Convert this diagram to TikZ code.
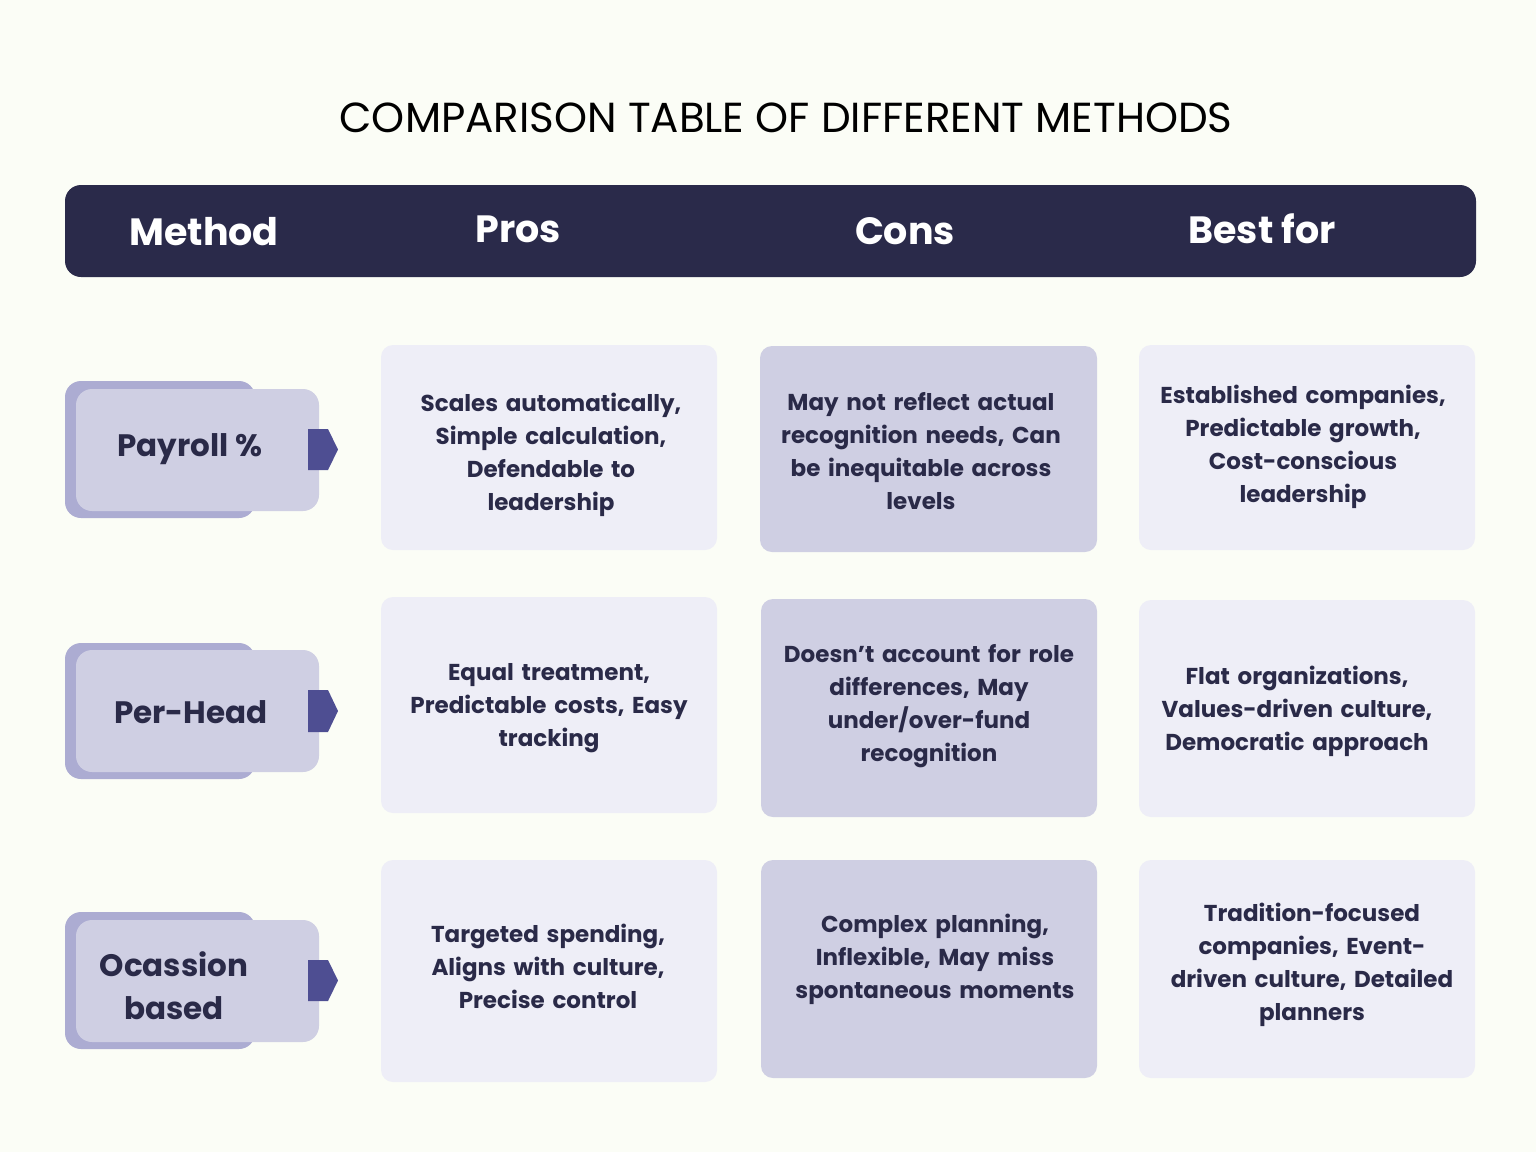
\documentclass[tikz,border=0pt]{standalone}
\usepackage{fontspec}
\setmainfont{Poppins}
\definecolor{bg}{HTML}{FBFDF6}
\definecolor{hdr}{HTML}{2A2A4A}
\definecolor{lite}{HTML}{EEEEF7}
\definecolor{mid}{HTML}{CFCFE3}
\definecolor{back}{HTML}{ACACD2}
\definecolor{tag}{HTML}{4E4E92}
\definecolor{ink}{HTML}{2A2A48}
\tikzset{
 cell/.style={rounded corners=12pt},
 ctext/.style={text=ink,font=\fontsize{23}{33}\selectfont\bfseries,align=center,text width=#1},
 htext/.style={text=white,font=\fontsize{38}{44}\selectfont\bfseries},
 mtext/.style={text=ink,font=\fontsize{31}{43}\selectfont\bfseries,align=center}
}
\begin{document}
\begin{tikzpicture}[x=1pt,y=-1pt]
\fill[bg] (0,0) rectangle (1536,1152);
\useasboundingbox (0,0) rectangle (1536,1152);
\node[font=\fontsize{42}{50}\selectfont,text=black] (title) at (786,118) {COMPARISON TABLE OF DIFFERENT METHODS};
\fill[hdr,rounded corners=16pt] (65,185) rectangle (1476,277);
\node[htext] (h1) at (204,232) {Method};
\node[htext] (h2) at (518,229) {Pros};
\node[htext] (h3) at (905,231) {Cons};
\node[htext] (h4) at (1262,229) {Best for};
% method boxes
\foreach \yb/\ye/\yf/\yg/\ya/\yz in {381/518/389/511/429/470, 643/779/650/772/690/732, 912/1049/920/1042/960/1001}{
 \fill[back,rounded corners=16pt] (65,\yb) rectangle (255,\ye);
 \fill[mid,rounded corners=16pt] (76,\yf) rectangle (319,\yg);
 \fill[tag] (308,\ya) -- (328,\ya) -- (338,{(\ya+\yz)/2}) -- (328,\yz) -- (308,\yz) -- cycle;
}
\node[mtext] (m1) at (190,449) {Payroll \%};
\node[mtext] (m2) at (191,712) {Per-Head};
\node[mtext] (m3) at (174,986) {Ocassion\\based};
% cells
\fill[lite,cell] (381,345) rectangle (717,550);
\fill[mid,cell] (760,346) rectangle (1097,552);
\fill[lite,cell] (1139,345) rectangle (1475,550);
\fill[lite,cell] (381,597) rectangle (717,813);
\fill[mid,cell] (761,599) rectangle (1097,817);
\fill[lite,cell] (1139,600) rectangle (1475,817);
\fill[lite,cell] (381,860) rectangle (717,1082);
\fill[mid,cell] (761,860) rectangle (1097,1078);
\fill[lite,cell] (1139,860) rectangle (1475,1078);
\node[ctext=300pt] (p1) at (551,455) {Scales automatically,\\Simple calculation,\\Defendable to\\leadership};
\node[ctext=300pt] (c1) at (921,451) {May not reflect actual\\recognition needs, Can\\be inequitable across\\levels};
\node[ctext=310pt] (b1) at (1303,447) {Established companies,\\Predictable growth,\\Cost-conscious\\leadership};
\node[ctext=300pt] (p2) at (549,708) {Equal treatment,\\Predictable costs, Easy\\tracking};
\node[ctext=300pt] (c2) at (929,706) {Doesn't account for role\\differences, May\\under/over-fund\\recognition};
\node[ctext=310pt] (b2) at (1297,711) {Flat organizations,\\Values-driven culture,\\Democratic approach};
\node[ctext=300pt] (p3) at (548,966) {Targeted spending,\\Aligns with culture,\\Precise control};
\node[ctext=310pt] (c3) at (935,959) {Complex planning,\\Inflexible, May miss\\spontaneous moments};
\node[ctext=310pt] (b3) at (1312,965) {Tradition-focused\\companies, Event-\\driven culture, Detailed\\planners};
\end{tikzpicture}
\end{document}
